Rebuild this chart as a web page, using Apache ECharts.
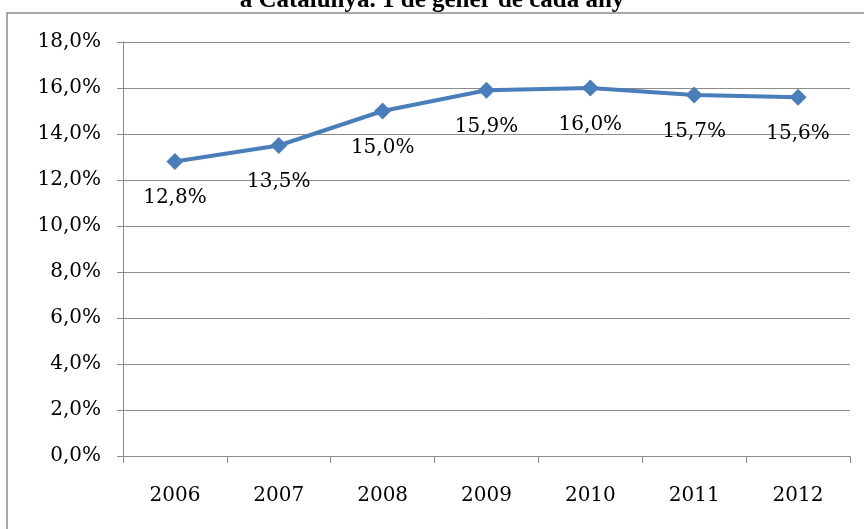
<!DOCTYPE html>
<html>
<head>
<meta charset="utf-8">
<script src="https://cdn.jsdelivr.net/npm/echarts@6/dist/echarts.min.js"></script>
<style>
html,body{margin:0;padding:0;background:#fff;}
#chart{width:864px;height:529px;}
</style>
</head>
<body>
<div id="chart"></div>
<script>
// anys i percentatges (1 de gener)
var anys = ['2006', '2007', '2008', '2009', '2010', '2011', '2012'];
var percentatges = [12.8, 13.5, 15.0, 15.9, 16.0, 15.7, 15.6];
var titol = 'a Catalunya. 1 de gener de cada any';

var fmt = function (v) {
    return v.toFixed(1).replace('.', ',') + '%';
};

var myChart = echarts.init(document.getElementById('chart'));
var option = {
    backgroundColor: '#fff',
    animation: false,
    title: {
        text: titol,
        left: 'center',
        top: -17,
        textStyle: {
            fontFamily: 'Liberation Serif',
            fontWeight: 'bold',
            fontSize: 25,
            color: '#000'
        }
    },
    graphic: [{
        type: 'rect',
        shape: {x: 7, y: 13, width: 900, height: 600},
        style: {fill: 'none', stroke: '#8c8c8c', lineWidth: 1.5},
        silent: true
    }],
    grid: {
        left: 123,
        right: 14,
        top: 42,
        bottom: 73,
        containLabel: false
    },
    xAxis: {
        type: 'category',
        data: anys,
        boundaryGap: true,
        axisLine: {lineStyle: {color: '#8c8c8c', width: 1}},
        axisTick: {show: true, alignWithLabel: false, length: 7, lineStyle: {color: '#8c8c8c'}},
        axisLabel: {
            margin: 30,
            fontFamily: 'DejaVu Serif',
            fontSize: 20,
            color: '#000'
        },
        splitLine: {show: false}
    },
    yAxis: {
        type: 'value',
        min: 0,
        max: 18,
        interval: 2,
        axisLine: {show: true, lineStyle: {color: '#8c8c8c', width: 1}},
        axisTick: {show: true, length: 6, lineStyle: {color: '#8c8c8c'}},
        axisLabel: {
            margin: 22,
            formatter: fmt,
            fontFamily: 'DejaVu Serif',
            fontSize: 20,
            color: '#000'
        },
        splitLine: {show: true, lineStyle: {color: '#8c8c8c', width: 1}}
    },
    series: [{
        type: 'line',
        data: percentatges,
        symbol: 'diamond',
        symbolSize: 17,
        lineStyle: {color: '#4a7ebb', width: 4},
        itemStyle: {color: '#4a7ebb'},
        label: {
            show: true,
            position: 'bottom',
            distance: 18,
            formatter: function (p) { return fmt(p.value); },
            fontFamily: 'DejaVu Serif',
            fontSize: 20,
            color: '#000'
        }
    }]
};
myChart.setOption(option);
</script>
</body>
</html>
